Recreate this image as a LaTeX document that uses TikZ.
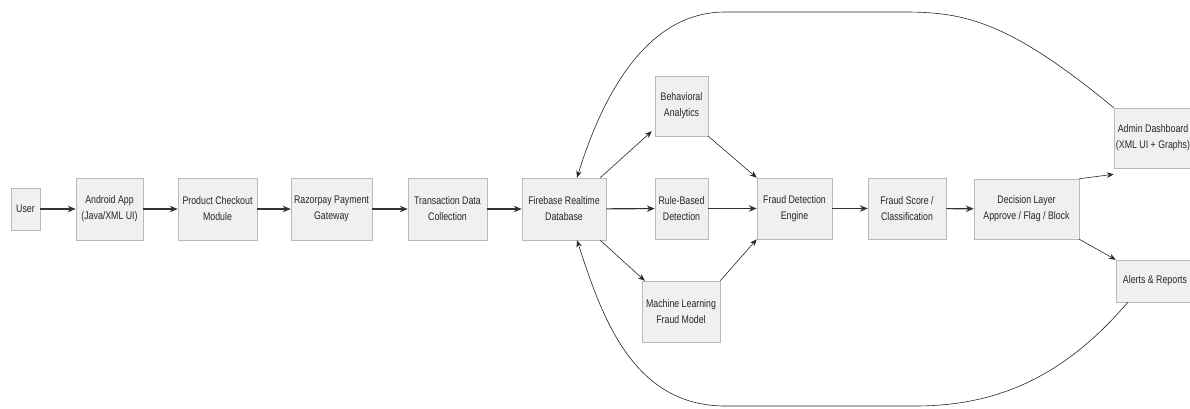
\documentclass[tikz,border=0pt]{standalone}
\usepackage{fontspec}
\newfontfamily\narrowsans{Liberation Sans}[FakeStretch=0.8]
\usetikzlibrary{shapes,arrows,arrows.meta,positioning,calc}

\begin{document}
\begin{tikzpicture}[x=1pt,y=-1pt]
  % Estilos
  \tikzstyle{block}=[rectangle, draw=gray!55, fill=gray!12, line width=0.5pt, inner sep=0pt, align=center, text=black!85, font=\narrowsans\fontsize{11}{16}\selectfont]
  \tikzstyle{flow}=[-{Stealth[length=8pt,width=6.5pt]}, line width=1.1pt, black!80]
  \tikzstyle{thin}=[-{Stealth[length=7pt,width=5.5pt]}, line width=0.6pt, black!85]
  \tikzstyle{feedback}=[-{Stealth[length=7pt,width=5.5pt]}, line width=0.6pt, black!85]

  \useasboundingbox (0,0) rectangle (1190,408);

  % Cadena principal
  \node[block, minimum width=29, minimum height=42] (user) at (25.5,209) {User};
  \node[block, minimum width=67, minimum height=62] (app) at (109.5,209) {Android App\\(Java/XML UI)};
  \node[block, minimum width=79, minimum height=62] (checkout) at (217.5,209) {Product Checkout\\Module};
  \node[block, minimum width=81, minimum height=62] (gateway) at (331.5,209) {Razorpay Payment\\Gateway};
  \node[block, minimum width=79, minimum height=62] (txn) at (447.5,209) {Transaction Data\\Collection};
  \node[block, minimum width=84, minimum height=62] (fbdb) at (564,209) {Firebase Realtime\\Database};

  % Tres ramas de analisis
  \node[block, minimum width=53, minimum height=60] (behav) at (681.5,106) {Behavioral\\Analytics};
  \node[block, minimum width=53, minimum height=61] (rules) at (681.5,208.5) {Rule-Based\\Detection};
  \node[block, minimum width=78, minimum height=61] (mlmodel) at (681,311.5) {Machine Learning\\Fraud Model};

  % Motor y decision
  \node[block, minimum width=75, minimum height=61] (engine) at (794.5,208.5) {Fraud Detection\\Engine};
  \node[block, minimum width=78, minimum height=61] (score) at (907,208.5) {Fraud Score /\\Classification};
  \node[block, minimum width=105, minimum height=60] (decision) at (1026.5,209) {Decision Layer\\Approve / Flag / Block};

  % Salidas
  \node[block, minimum width=78, minimum height=60] (admin) at (1153,138) {Admin Dashboard\\(XML UI + Graphs)};
  \node[block, minimum width=78, minimum height=42] (alerts) at (1155,281) {Alerts \& Reports};

  % Flechas principales
  \draw[flow] (user) -- (app);
  \draw[flow] (app) -- (checkout);
  \draw[flow] (checkout) -- (gateway);
  \draw[flow] (gateway) -- (txn);
  \draw[flow] (txn) -- (fbdb);
  \draw[flow] (fbdb) -- (rules);
  \draw[flow] (rules) -- (engine);
  \draw[flow] (engine) -- (score);
  \draw[flow] (score) -- (decision);

  % Ramas diagonales
  \draw[thin] ([xshift=-6]fbdb.north east) -- ([shift={(-3,-5)}]behav.south west);
  \draw[thin] (behav.south east) -- (engine.north west);
  \draw[thin] ([xshift=-6]fbdb.south east) -- ([xshift=3]mlmodel.north west);
  \draw[thin] (mlmodel.north east) -- (engine.south west);
  \draw[thin] (decision.north east) -- ([yshift=-6]admin.south west);
  \draw[thin] (decision.south east) -- (alerts.north west);

  % Retroalimentacion hacia la base de datos
  \draw[feedback] (admin.north west) .. controls (1010,22) and (965,12) .. (905,12) -- (725,12) .. controls (640,12) and (598,110) .. ([xshift=13]fbdb.north);
  \draw[feedback] ([xshift=12]alerts.south west) .. controls (1060,382) and (990,406) .. (915,406) -- (725,406) .. controls (630,406) and (600,310) .. ([xshift=13]fbdb.south);
\end{tikzpicture}
\end{document}
